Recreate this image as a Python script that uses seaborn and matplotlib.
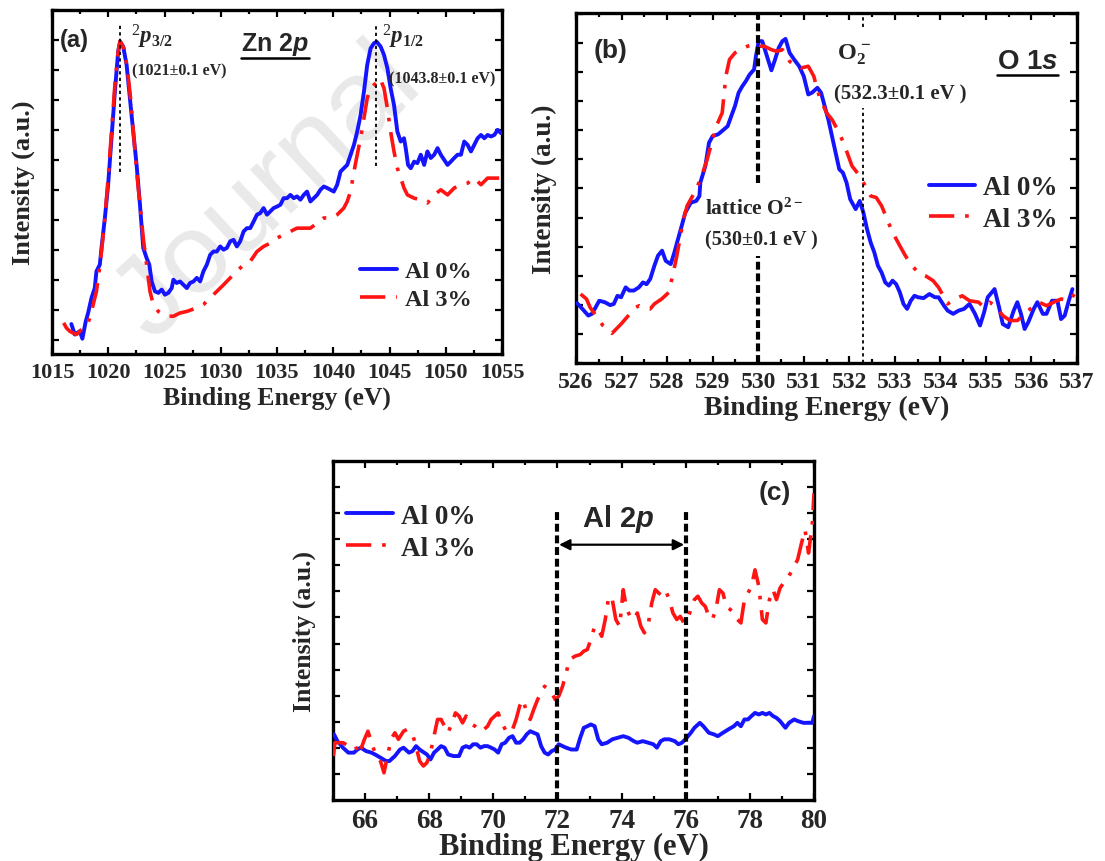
import matplotlib
matplotlib.use("Agg")
import matplotlib.pyplot as plt
import seaborn as sns
from matplotlib.ticker import MultipleLocator
from matplotlib.lines import Line2D

# ---------------- data ----------------
# Panel (a): Zn 2p
ea0 = [1016.72,1017.02,1017.47,1017.70,1018.00,1018.21,1018.51,1018.80,1018.95,1019.25,
       1019.40,1019.70,1019.99,1020.29,1020.59,1020.88,1021.05,1021.33,1021.63,1021.92,
       1022.22,1022.52,1022.82,1023.11,1023.41,1023.65,1023.86,1024.15,1024.45,1024.75,
       1025.04,1025.34,1025.64,1025.79,1026.08,1026.38,1026.68,1026.98,1027.27,1027.57,
       1027.87,1028.17,1028.46,1028.76,1029.06,1029.35,1029.65,1029.95,1030.25,1030.54,
       1030.84,1031.14,1031.43,1031.73,1032.03,1032.33,1032.62,1032.92,1033.22,1033.51,
       1033.81,1034.11,1034.41,1034.70,1035.00,1035.30,1035.59,1035.89,1036.19,1036.49,
       1036.78,1037.08,1037.38,1037.67,1037.97,1038.27,1038.57,1038.86,1039.16,1039.46,
       1039.75,1040.05,1040.35,1040.65,1040.94,1041.24,1041.54,1041.84,1042.13,1042.43,
       1042.73,1043.02,1043.32,1043.62,1043.86,1044.21,1044.51,1044.81,1045.10,1045.40,
       1045.70,1046.00,1046.29,1046.44,1046.65,1046.89,1047.19,1047.48,1047.78,1048.08,
       1048.37,1048.67,1048.97,1049.27,1049.56,1049.86,1050.16,1050.45,1050.75,1051.05,
       1051.35,1051.64,1051.94,1052.24,1052.53,1052.83,1053.13,1053.43,1053.72,1054.02,
       1054.32,1054.61,1054.91]
ia0 = [0.52,0.17,0.28,0.03,0.61,0.89,1.39,1.72,2.28,2.50,
       3.06,4.06,5.17,6.72,8.28,9.61,9.94,9.78,9.17,8.06,
       6.94,5.83,4.50,3.06,2.72,2.50,1.94,1.61,1.56,1.67,
       1.50,1.56,1.72,2.00,1.89,1.94,1.83,1.72,1.89,1.94,
       2.06,1.94,2.28,2.50,2.83,2.94,2.94,3.11,3.00,3.06,
       3.28,3.33,3.11,3.28,3.61,3.72,3.72,3.94,4.17,4.22,
       4.39,4.17,4.28,4.39,4.44,4.50,4.72,4.72,4.83,4.72,
       4.78,4.67,4.83,4.94,4.61,4.72,4.83,5.00,5.11,5.06,
       5.00,4.94,5.17,5.61,5.72,5.83,6.17,6.50,6.94,7.50,
       8.28,9.17,9.72,9.89,9.94,9.78,9.50,9.06,8.39,7.83,
       6.94,6.61,6.72,6.39,5.83,5.72,5.94,5.89,6.17,5.83,
       6.28,6.06,6.17,6.39,6.17,6.00,5.83,5.94,6.06,6.17,
       6.17,6.61,6.50,6.28,6.50,6.72,6.83,6.72,6.83,6.78,
       6.83,7.00,6.89]
ea3 = [1016.04,1016.28,1016.58,1016.87,1017.17,1017.47,1017.76,1018.06,1018.36,1018.66,
       1018.95,1019.19,1019.40,1019.70,1019.99,1020.29,1020.59,1020.88,1021.05,1021.39,
       1021.69,1021.98,1022.28,1022.58,1022.88,1023.11,1023.41,1023.71,1024.00,1024.45,
       1024.90,1025.34,1025.79,1026.38,1026.98,1027.42,1027.87,1028.46,1029.06,1029.65,
       1030.25,1030.84,1031.43,1032.03,1032.62,1033.22,1033.81,1034.41,1035.00,1035.59,
       1036.19,1036.78,1037.38,1037.97,1038.57,1039.16,1039.75,1040.35,1040.94,1041.24,
       1041.54,1041.84,1042.13,1042.43,1042.73,1043.02,1043.32,1043.62,1043.92,1044.15,
       1044.51,1044.81,1045.10,1045.40,1045.70,1046.00,1046.29,1046.59,1047.19,1047.78,
       1048.37,1048.97,1049.56,1050.16,1050.75,1051.35,1051.94,1052.53,1053.13,1053.72,
       1054.32,1054.91]
ia3 = [0.56,0.39,0.28,0.22,0.17,0.28,0.39,0.44,0.72,1.17,
       1.61,2.28,2.94,4.06,5.39,6.94,8.50,9.61,9.97,9.72,
       9.06,8.06,6.72,5.39,4.28,3.39,2.50,1.61,1.17,0.94,
       0.83,0.78,0.78,0.89,0.94,1.00,1.06,1.17,1.39,1.61,
       1.83,2.06,2.28,2.50,2.61,2.94,3.11,3.22,3.39,3.50,
       3.61,3.72,3.72,3.72,3.89,4.06,4.06,4.17,4.39,4.61,
       4.94,5.61,6.17,6.72,7.39,8.06,8.39,8.50,8.61,8.72,
       8.39,7.72,6.94,6.28,5.72,5.39,5.06,4.83,4.72,4.67,
       4.56,4.83,5.00,4.83,5.06,5.17,5.22,5.39,5.17,5.39,
       5.39,5.39]
peaks_a = [1021.0, 1043.8]

# Panel (b): O 1s
eb0 = [526.02,526.14,526.27,526.35,526.43,526.51,526.63,526.75,526.83,526.91,
       526.99,527.09,527.17,527.27,527.38,527.47,527.55,527.63,527.72,527.80,
       527.89,527.97,528.08,528.16,528.24,528.32,528.40,528.52,528.64,528.71,
       528.73,528.84,528.92,529.00,529.12,529.25,529.33,529.41,529.49,529.57,
       529.65,529.73,529.81,529.91,529.95,530.01,530.09,530.17,530.29,530.37,
       530.45,530.53,530.60,530.69,530.79,530.90,531.00,531.10,531.18,531.30,
       531.38,531.46,531.54,531.62,531.70,531.78,531.86,531.94,532.02,532.14,
       532.23,532.31,532.39,532.47,532.55,532.63,532.71,532.79,532.87,532.95,
       533.03,533.11,533.19,533.27,533.35,533.43,533.51,533.63,533.76,533.88,
       533.96,534.08,534.16,534.28,534.40,534.52,534.64,534.76,534.87,534.96,
       535.04,535.19,535.29,535.37,535.49,535.61,535.69,535.77,535.85,535.93,
       536.05,536.13,536.25,536.33,536.45,536.57,536.65,536.73,536.82,536.90]
ib0 = [1.06,0.86,0.63,0.69,0.91,1.14,1.09,0.99,1.03,1.31,
       1.26,1.60,1.49,1.49,1.60,1.77,1.71,1.89,2.34,2.69,
       2.86,2.51,2.40,2.80,3.26,3.71,4.17,4.51,4.57,4.74,
       5.20,5.77,6.57,6.80,6.86,7.03,7.14,7.49,7.83,8.29,
       8.51,8.69,8.91,9.09,9.54,10.06,10.06,9.66,9.06,9.43,
       9.83,10.06,10.14,9.66,9.43,9.20,8.86,8.23,8.29,8.46,
       8.29,7.83,7.37,6.80,6.23,5.66,5.54,5.20,4.63,4.29,
       4.57,4.17,3.60,3.14,2.80,2.34,2.11,1.77,1.66,1.83,
       1.71,1.43,1.03,0.86,1.14,1.31,1.26,1.23,1.37,1.26,
       1.26,0.97,0.80,0.69,0.80,0.86,1.03,0.69,0.29,0.74,
       1.26,1.54,0.91,0.34,0.23,0.80,1.09,0.69,0.17,0.40,
       0.86,1.09,0.69,0.69,1.14,1.14,0.51,0.63,1.14,1.54]
eb3 = [526.10,526.23,526.31,526.59,526.79,526.99,527.15,527.31,527.39,527.47,
       527.63,527.72,527.88,528.04,528.12,528.20,528.28,528.36,528.44,528.52,
       528.64,528.76,528.88,529.00,529.08,529.21,529.29,529.37,529.49,529.61,
       529.77,529.89,530.01,530.13,530.29,530.41,530.53,530.61,530.69,530.82,
       530.94,531.10,531.22,531.34,531.50,531.62,531.78,531.90,532.06,532.23,
       532.35,532.47,532.59,532.71,532.83,532.95,533.11,533.23,533.35,533.51,
       533.67,533.84,533.96,534.08,534.16,534.32,534.48,534.64,534.84,534.96,
       535.08,535.20,535.37,535.53,535.69,535.85,536.01,536.17,536.33,536.49,
       536.65,536.82,536.98]
ib3 = [1.37,1.20,0.91,0.29,0.02,0.34,0.63,0.91,0.97,0.91,
       0.86,1.03,1.20,1.43,2.00,2.57,3.26,3.94,4.40,4.63,
       4.97,5.43,6.00,6.69,7.14,7.60,8.86,9.43,9.66,9.77,
       9.89,9.94,9.89,9.89,9.77,9.71,9.77,9.60,9.37,9.20,
       9.14,9.20,8.86,8.17,7.60,7.37,6.91,6.46,5.77,5.43,
       5.09,4.74,4.69,4.40,3.94,3.49,3.03,2.69,2.40,2.11,
       2.00,1.83,1.60,1.26,1.03,1.20,1.31,1.14,1.09,0.91,
       1.09,0.97,0.63,0.46,0.46,0.69,0.91,1.09,0.97,1.09,
       1.20,1.14,1.43]
peak_lattice = 530.0
peak_o2 = 532.3

# Panel (c): Al 2p
ec0 = [65.03,65.14,65.31,65.48,65.65,65.76,65.87,66.03,66.20,66.31,
       66.48,66.65,66.76,66.93,67.09,67.20,67.37,67.48,67.59,67.70,
       67.82,67.93,68.04,68.15,68.26,68.37,68.48,68.59,68.76,68.93,
       69.04,69.15,69.26,69.37,69.48,69.60,69.71,69.82,69.93,70.04,
       70.15,70.26,70.37,70.49,70.60,70.71,70.82,70.93,71.04,71.15,
       71.26,71.38,71.49,71.60,71.71,71.82,71.93,72.04,72.16,72.27,
       72.43,72.60,72.71,72.82,72.93,73.04,73.16,73.27,73.38,73.55,
       73.71,73.88,74.05,74.21,74.38,74.49,74.66,74.83,74.99,75.10,
       75.22,75.33,75.49,75.66,75.77,75.88,75.99,76.16,76.27,76.44,
       76.55,76.72,76.88,77.00,77.16,77.33,77.50,77.61,77.72,77.83,
       77.94,78.05,78.16,78.28,78.39,78.50,78.61,78.72,78.83,78.94,
       79.11,79.22,79.38,79.49,79.67,79.83,79.95,80.00]
ic0 = [1.53,1.27,1.02,0.83,0.83,0.95,1.02,0.89,0.83,0.76,
       0.64,0.51,0.51,0.70,0.95,1.02,0.83,0.89,1.08,0.95,
       0.85,0.76,0.57,0.83,0.95,1.08,1.02,0.76,0.70,0.70,
       1.02,1.08,1.02,1.15,1.15,1.02,1.08,1.08,1.02,0.95,
       0.83,1.15,1.21,1.40,1.46,1.21,1.21,1.34,1.53,1.65,
       1.59,1.53,1.08,0.83,0.76,0.89,0.95,1.15,1.08,1.02,
       0.95,0.95,1.40,1.78,1.84,1.91,1.84,1.34,1.15,1.21,
       1.34,1.40,1.46,1.40,1.27,1.21,1.27,1.21,1.15,1.02,
       1.27,1.34,1.34,1.27,1.15,1.21,1.34,1.59,1.78,1.97,
       1.84,1.59,1.53,1.46,1.59,1.72,1.84,1.97,1.84,2.10,
       2.10,2.23,2.35,2.29,2.35,2.29,2.35,2.23,2.16,2.04,
       1.78,1.97,2.10,2.04,1.97,1.97,1.97,2.23]
ec3 = [65.01,65.06,65.31,65.59,65.70,65.81,65.98,66.09,66.20,66.31,
       66.48,66.59,66.70,66.81,66.93,67.04,67.20,67.31,67.48,67.59,
       67.70,67.82,67.93,68.04,68.15,68.26,68.37,68.48,68.59,68.71,
       68.82,68.93,69.04,69.15,69.26,69.43,69.60,69.71,69.82,69.93,
       70.15,70.26,70.43,70.60,70.71,70.82,70.93,71.04,71.15,71.26,
       71.38,71.49,71.60,71.71,71.82,71.93,72.04,72.16,72.27,72.38,
       72.55,72.71,72.82,72.93,73.04,73.16,73.27,73.38,73.49,73.60,
       73.71,73.82,73.94,74.05,74.16,74.27,74.38,74.49,74.60,74.71,
       74.83,74.94,75.05,75.16,75.27,75.38,75.49,75.60,75.72,75.83,
       75.94,76.05,76.16,76.27,76.38,76.50,76.61,76.72,76.83,76.94,
       77.05,77.16,77.27,77.39,77.50,77.61,77.72,77.83,77.94,78.05,
       78.16,78.28,78.39,78.50,78.61,78.72,78.83,78.94,79.05,79.16,
       79.27,79.38,79.49,79.61,79.72,79.83,79.95,80.00]
ic3 = [0.70,1.21,1.21,1.02,1.08,0.76,1.34,1.65,1.21,0.83,
       0.51,0.06,0.70,1.34,1.59,1.34,1.65,1.72,1.53,1.08,
       0.51,0.32,0.45,0.83,1.46,2.10,2.10,1.84,1.59,1.97,
       2.35,2.23,1.97,2.23,1.97,1.84,1.65,1.72,1.84,2.10,
       2.35,1.97,1.59,1.72,2.10,2.61,2.86,2.35,2.10,2.48,
       2.86,3.12,3.37,3.24,3.12,2.86,2.99,3.37,3.88,4.39,
       4.52,4.58,4.71,4.77,5.15,5.66,5.53,5.28,5.92,6.81,
       6.68,5.92,5.66,7.06,6.30,6.04,5.92,6.17,5.66,5.41,
       5.73,6.55,7.06,6.93,6.81,7.00,6.68,6.17,5.92,6.04,
       5.79,5.92,6.30,6.68,6.81,6.55,6.42,6.04,5.92,6.30,
       7.06,6.93,6.42,6.30,6.17,5.92,5.79,6.68,6.93,7.19,
       7.82,7.19,5.92,5.79,6.68,7.06,6.68,7.12,7.32,7.44,
       7.70,7.95,8.21,8.84,9.35,8.46,9.61,10.75]
al2p_window = [72.0, 76.0]

series_labels = ["Al 0%", "Al 3%"]

# ---------------- style ----------------
sns.set_style("ticks")
SERIF = ["Liberation Serif", "DejaVu Serif"]
SANS = ["Liberation Sans", "DejaVu Sans"]
plt.rcParams["font.family"] = SERIF
plt.rcParams["font.weight"] = "bold"
plt.rcParams["mathtext.fontset"] = "custom"
plt.rcParams["mathtext.rm"] = "Liberation Serif"
plt.rcParams["mathtext.it"] = "Liberation Serif:italic"
plt.rcParams["mathtext.bf"] = "Liberation Serif:bold"
plt.rcParams["mathtext.sf"] = "Liberation Sans:bold:italic"
plt.rcParams["mathtext.default"] = "regular"

BLUE = "#1414ff"
RED = "#ff1414"
RED_LS = (0, (7, 3, 1, 3))
THICK_DASH = (0, (1.9, 0.9))
THIN_DOT = (0, (1.8, 1.8))

W, H = 1105, 862
fig = plt.figure(figsize=(W / 100, H / 100), dpi=100)
fig.patch.set_facecolor("white")

def px_axes(l, t, r, b):
    return fig.add_axes([l / W, 1 - b / H, (r - l) / W, (b - t) / H])

ax_a = px_axes(52, 11, 502, 355)
ax_b = px_axes(576, 14, 1077, 364)
ax_c = px_axes(333, 462, 814, 801)

# faint watermark behind everything
fig.text(152 / W, 1 - 342 / H, "Journal", rotation=43, rotation_mode="anchor",
         ha="left", va="baseline", fontsize=82, color="#e9e9e9", family=SANS,
         weight="normal", zorder=-1)


def draw_curves(ax, e0, i0, e3, i3):
    sns.lineplot(x=e0, y=i0, ax=ax, color=BLUE, lw=2.8, sort=False,
                 estimator=None, label=series_labels[0], zorder=3)
    sns.lineplot(x=e3, y=i3, ax=ax, color=RED, lw=2.6, linestyle=RED_LS,
                 sort=False, estimator=None, label=series_labels[1], zorder=4)


def style_axes(ax, xlim, ylim, xmaj, xmin, tick_fs, xl_fs, yl_fs, ylpad, xlpad):
    ax.set_facecolor("none")
    ax.set_xlim(*xlim)
    ax.set_ylim(*ylim)
    ax.xaxis.set_major_locator(MultipleLocator(xmaj))
    ax.xaxis.set_minor_locator(MultipleLocator(xmin))
    ax.yaxis.set_major_locator(MultipleLocator(1))
    ax.tick_params(which="both", direction="in", top=True, right=True,
                   width=1.6, color="black", labelleft=False)
    ax.tick_params(which="major", length=5, pad=6, labelsize=tick_fs)
    ax.tick_params(which="minor", length=3)
    for lab in ax.get_xticklabels():
        lab.set_fontweight("bold")
    for sp in ax.spines.values():
        sp.set_linewidth(2.4)
        sp.set_color("black")
    ax.set_xlabel("Binding Energy (eV)", fontsize=xl_fs, fontweight="bold", labelpad=xlpad)
    ax.set_ylabel("Intensity (a.u.)", fontsize=yl_fs, fontweight="bold", labelpad=ylpad)


def legend(ax, x, y, fs, hl):
    h, l = ax.get_legend_handles_labels()
    ax.legend(h, l, loc="center left", bbox_to_anchor=(x, y), frameon=False,
              prop=dict(family=SERIF, weight="bold", size=fs), handlelength=hl,
              handletextpad=0.3, labelspacing=0.25, borderpad=0, borderaxespad=0)


texts_to_underline = []

# ---------------- panel (a) ----------------
draw_curves(ax_a, ea0, ia0, ea3, ia3)
style_axes(ax_a, (1015, 1055), (-0.48, 11.0), 5, 2.5, 16, 18.5, 19, 12, 2)
ax_a.vlines(peaks_a, ymin=[5.6, 5.8], ymax=[10.5, 10.55], colors="black", lw=1.3,
            linestyles=[THIN_DOT], zorder=5)
ax_a.text(0.018, 0.913, "(a)", transform=ax_a.transAxes, family=SANS, weight="bold",
          size=17, va="center", ha="left")
ax_a.text(1022.0, 10.12, r"$^{2}\mathit{p}_{\mathit{3/2}}$", size=16.5, weight="normal",
          va="center", ha="left")
ax_a.text(1022.1, 8.99, "(1021±0.1 eV)", size=11.5, va="center", ha="left")
ax_a.text(1044.3, 10.12, r"$^{2}\mathit{p}_{\mathit{1/2}}$", size=16.5, weight="normal",
          va="center", ha="left")
ax_a.text(1044.96, 8.72, "(1043.8±0.1 eV)", size=11.5, va="center", ha="left")
t = ax_a.text(1031.8, 9.89, r"Zn 2$\mathsf{p}$", family=SANS, weight="bold", size=18,
              va="center", ha="left")
texts_to_underline.append(t)
legend(ax_a, 0.684, 0.20, 17.5, 1.55)

# ---------------- panel (b) ----------------
draw_curves(ax_b, eb0, ib0, eb3, ib3)
style_axes(ax_b, (526, 537), (-1.0, 11.03), 1, 0.5, 17, 20, 19.5, 14, 2)
ax_b.vlines(peak_lattice, 5.2, 10.97, colors="black", lw=3, linestyles=[THICK_DASH], zorder=5)
ax_b.vlines(peak_lattice, -1.0, 2.69, colors="black", lw=3, linestyles=[THICK_DASH], zorder=5)
ax_b.vlines(peak_o2, 10.55, 11.03, colors="black", lw=1.3, linestyles=[THIN_DOT], zorder=5)
ax_b.vlines(peak_o2, -1.0, 7.77, colors="black", lw=1.3, linestyles=[THIN_DOT], zorder=5)
ax_b.text(0.035, 0.894, "(b)", transform=ax_b.transAxes, family=SANS, weight="bold",
          size=19, va="center", ha="left")
t = ax_b.text(0.840, 0.862, r"O 1$\mathsf{s}$", transform=ax_b.transAxes, family=SANS,
              weight="bold", size=20, va="center", ha="left")
texts_to_underline.append(t)
ax_b.text(531.72, 9.62, r"O$_{2}^{\,-}$", size=17.5, va="center", ha="left")
ax_b.text(531.66, 8.25, "(532.3±0.1 eV )", size=15, va="center", ha="left")
ax_b.text(528.83, 4.31, r"lattice O$^{2-}$", size=15.5, va="center", ha="left")
ax_b.text(528.83, 3.23, "(530±0.1 eV )", size=14.5, va="center", ha="left")
legend(ax_b, 0.705, 0.456, 19.5, 1.7)

# ---------------- panel (c) ----------------
draw_curves(ax_c, ec0, ic0, ec3, ic3)
style_axes(ax_c, (65, 80), (-0.98, 11.98), 2, 1, 19.5, 22, 18.5, 12, -1)
ax_c.vlines(al2p_window, -0.98, 10.11, colors="black", lw=3, linestyles=[THICK_DASH], zorder=5)
ax_c.annotate("", xy=(al2p_window[0] + 0.05, 8.78), xytext=(al2p_window[1] - 0.05, 8.78),
              arrowprops=dict(arrowstyle="<|-|>", color="black", lw=1.6,
                              mutation_scale=16, shrinkA=0, shrinkB=0), zorder=6)
ax_c.text(sum(al2p_window) / 2 - 0.1, 9.80, r"Al 2$\mathsf{p}$", family=SANS, weight="bold",
          size=21, va="center", ha="center")
ax_c.text(0.885, 0.908, "(c)", transform=ax_c.transAxes, family=SANS, weight="bold",
          size=19, va="center", ha="left")
legend(ax_c, 0.028, 0.79, 19.5, 1.7)

# underline the element labels
fig.canvas.draw()
renderer = fig.canvas.get_renderer()
for txt in texts_to_underline:
    bb = txt.get_window_extent(renderer)
    y = bb.y0 - 1
    fig.add_artist(Line2D([bb.x0 / W, bb.x1 / W], [y / H, y / H],
                          transform=fig.transFigure, color="black", lw=1.8))

fig.savefig("out.png", dpi=100, facecolor="white")
